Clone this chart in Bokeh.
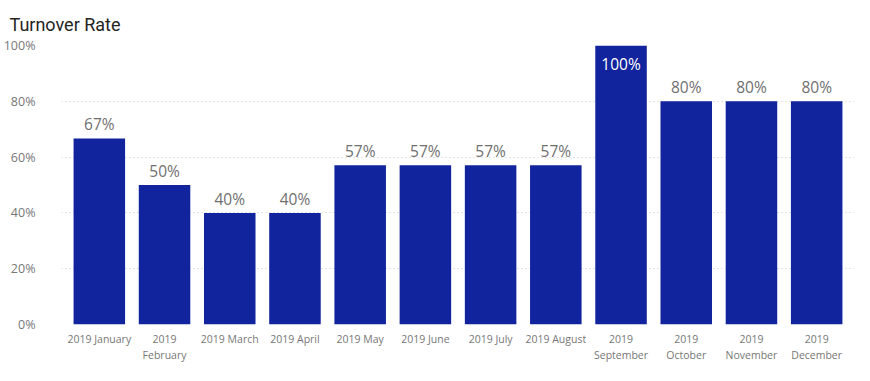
from bokeh.plotting import figure
from bokeh.models import ColumnDataSource, FactorRange, Range1d, FixedTicker, PrintfTickFormatter
from bokeh.core.properties import value
from bokeh.embed import file_html
from bokeh.resources import INLINE

months = ["2019 January", "2019\nFebruary", "2019 March", "2019 April", "2019 May",
          "2019 June", "2019 July", "2019 August", "2019\nSeptember", "2019\nOctober",
          "2019\nNovember", "2019\nDecember"]
rates = [66.7, 50, 40, 40, 57.1, 57.1, 57.1, 57.1, 100, 80, 80, 80]
y_ticks = [0, 20, 40, 60, 80, 100]

labels = [f"{round(v)}%" for v in rates]
inside = [v >= 95 for v in rates]

out_src = ColumnDataSource(dict(
    x=[m for m, i in zip(months, inside) if not i],
    y=[v for v, i in zip(rates, inside) if not i],
    t=[l for l, i in zip(labels, inside) if not i]))
in_src = ColumnDataSource(dict(
    x=[m for m, i in zip(months, inside) if i],
    y=[v for v, i in zip(rates, inside) if i],
    t=[l for l, i in zip(labels, inside) if i]))

p = figure(width=854, height=365, output_backend="svg", toolbar_location=None,
           x_range=FactorRange(*months, range_padding=0.08, range_padding_units="absolute"),
           y_range=Range1d(0, 100),
           title="Turnover Rate",
           min_border_left=52, min_border_right=0, min_border_top=8, min_border_bottom=0)

p.vbar(x=months, top=rates, width=0.79, color="#12239E", line_color=None)

p.text(x="x", y="y", text="t", source=out_src, text_align="center", text_baseline="bottom",
       y_offset=-3, text_font=value("Open Sans"), text_font_size="15.5px", text_color="#707070")
p.text(x="x", y="y", text="t", source=in_src, text_align="center", text_baseline="top",
       y_offset=7, text_font=value("Open Sans"), text_font_size="15.5px", text_color="#FFFFFF")

p.title.text_font = "Roboto"
p.title.text_font_size = "18px"
p.title.text_font_style = "normal"
p.title.text_color = "#252423"
p.title.offset = -52
p.title.standoff = 22

p.outline_line_color = None
p.background_fill_color = "white"
p.border_fill_color = "white"

p.xgrid.grid_line_color = None
p.ygrid.ticker = FixedTicker(ticks=y_ticks)
p.ygrid.grid_line_color = "#C8C8C8"
p.ygrid.grid_line_dash = "1 3"
p.ygrid.grid_line_width = 1

p.yaxis.ticker = FixedTicker(ticks=y_ticks)
p.yaxis.formatter = PrintfTickFormatter(format="%d%%")
p.yaxis.axis_line_color = None
p.yaxis.major_tick_line_color = None
p.yaxis.minor_tick_line_color = None
p.yaxis.major_label_standoff = 20
p.yaxis.major_label_text_font = "Open Sans"
p.yaxis.major_label_text_font_size = "12.5px"
p.yaxis.major_label_text_color = "#777777"

p.xaxis.axis_line_color = None
p.xaxis.major_tick_line_color = None
p.xaxis.minor_tick_line_color = None
p.xaxis.major_label_standoff = 1
p.xaxis.major_label_text_font = "Open Sans"
p.xaxis.major_label_text_font_size = "10.5px"
p.xaxis.major_label_text_color = "#777777"

open("out.html", "w").write(file_html(p, INLINE))
